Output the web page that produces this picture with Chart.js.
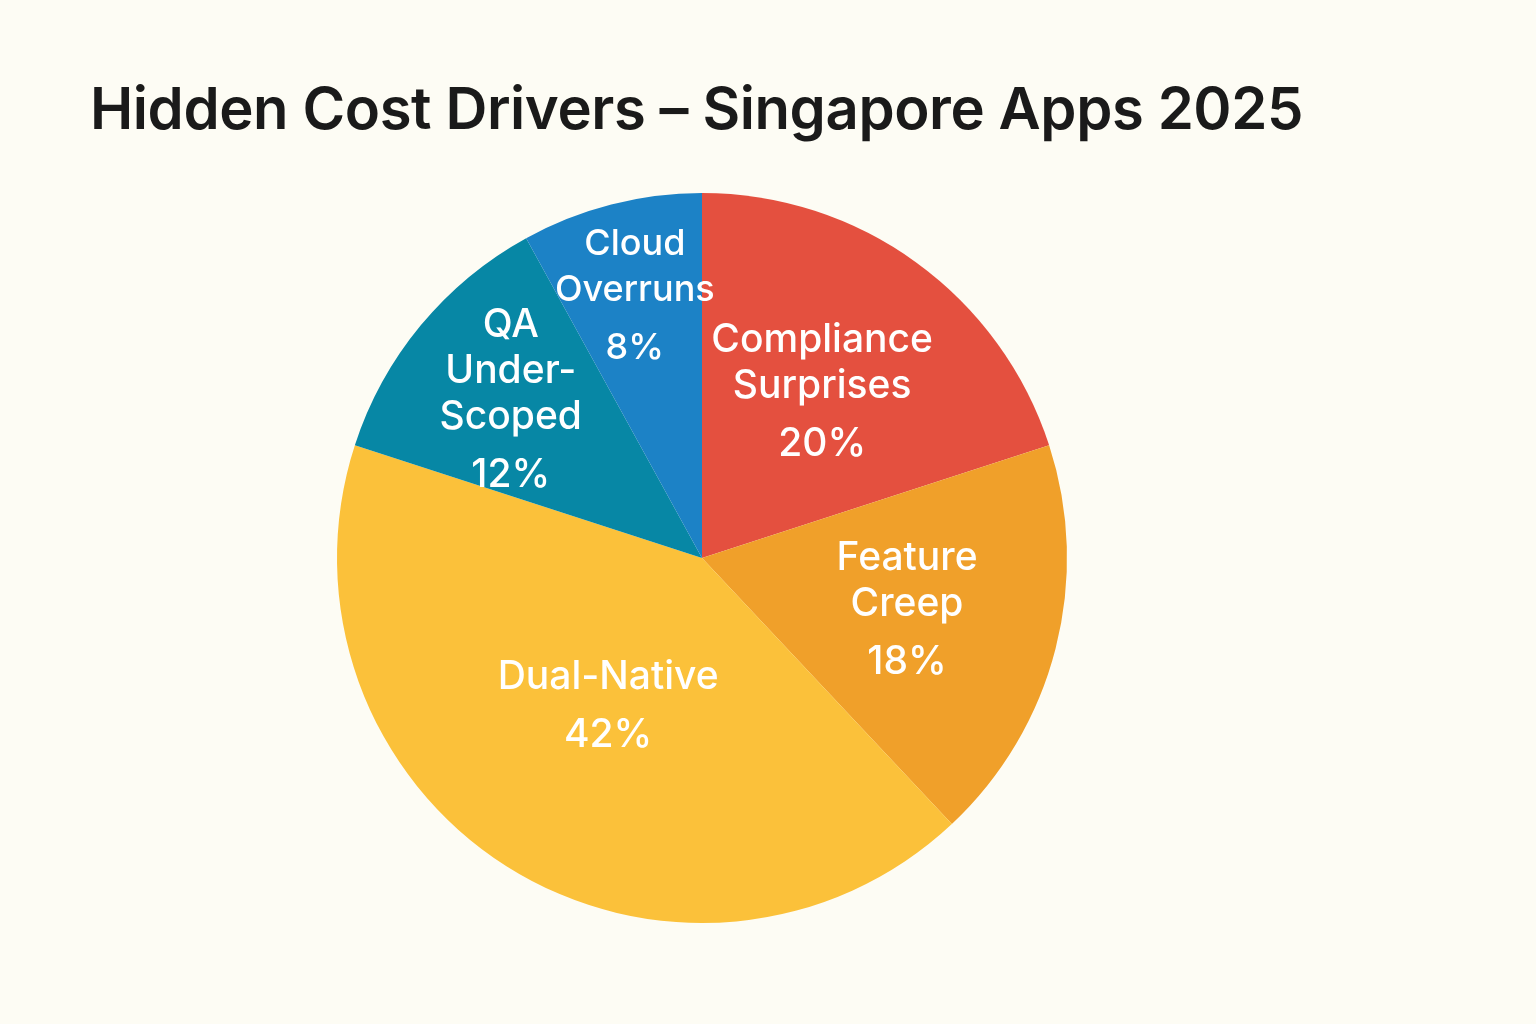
<!DOCTYPE html>
<html>
<head>
<meta charset="utf-8">
<script src="https://cdn.jsdelivr.net/npm/chart.js@4/dist/chart.umd.min.js"></script>
<style>
    html, body { margin: 0; padding: 0; background: #fdfcf4; }
    #wrap { position: relative; width: 1536px; height: 1024px; }
    #title {
        position: absolute; left: 90px; top: 73px; margin: 0;
        font-family: Inter, "Noto Sans", sans-serif; font-weight: 600;
        font-size: 58px; color: #1a1a1a; letter-spacing: -0.4px;
    }
</style>
</head>
<body>
<div id="wrap">
    <h1 id="title">Hidden Cost Drivers – Singapore Apps 2025</h1>
    <canvas id="pieChart" width="1536" height="1024"></canvas>
</div>
<script>
const categories = [["Compliance", "Surprises"], ["Feature", "Creep"], ["Dual-Native"], ["QA", "Under-", "Scoped"], ["Cloud", "Overruns"]];
const shares = [20, 18, 42, 12, 8];
const sliceColors = ['#e4503f', '#f0a02a', '#fbc13a', '#0787a5', '#1c82c6'];

// how far out from the centre each label sits, as a share of the radius
const labelDistance = [0.56, 0.58, 0.48, 0.68, 0.74];

// writes the name and percentage inside each slice
const sliceLabels = {
    id: 'sliceLabels',
    afterDatasetsDraw(chart) {
        const ctx = chart.ctx;
        const meta = chart.getDatasetMeta(0);
        ctx.save();
        ctx.fillStyle = '#ffffff';
        ctx.textAlign = 'center';
        ctx.textBaseline = 'middle';
        meta.data.forEach((arc, i) => {
            const p = arc.getProps(['x', 'y', 'startAngle', 'endAngle', 'outerRadius']);
            const mid = (p.startAngle + p.endAngle) / 2;
            const r = p.outerRadius * labelDistance[i];
            const cx = p.x + Math.cos(mid) * r;
            const cy = p.y + Math.sin(mid) * r;
            const lines = categories[i];
            const lh = 46;
            const gap = 12;
            const total = (lines.length + 1) * lh + gap;
            let y = cy - total / 2 + lh / 2;
            // the thin cloud slice gets a slightly smaller font
            ctx.font = (i === 4 ? '500 36px ' : '500 39px ') + 'Inter, "Noto Sans", sans-serif';
            lines.forEach(line => {
                ctx.fillText(line, cx, y);
                y += lh;
            });
            ctx.fillText(shares[i] + '%', cx, y + gap);
        });
        ctx.restore();
    }
};

new Chart(document.getElementById("pieChart").getContext("2d"), {
    type: 'pie',
    data: {
        labels: categories.map(c => c.join(' ')),
        datasets: [{
            data: shares,
            backgroundColor: sliceColors,
            borderWidth: 0
        }]
    },
    options: {
        responsive: false,
        animation: false,
        layout: { padding: { left: 337, right: 469, top: 193, bottom: 101 } },
        plugins: {
            legend: { display: false },
            tooltip: { enabled: false }
        }
    },
    plugins: [sliceLabels]
});
</script>
</body>
</html>
